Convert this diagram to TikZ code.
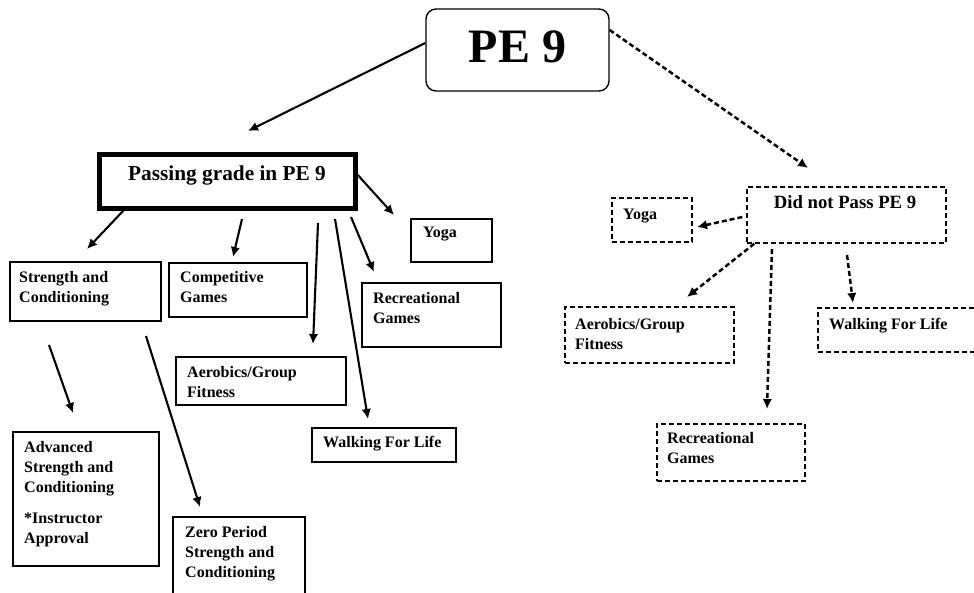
\documentclass[tikz,border=0pt]{standalone}
\usepackage{fontspec}
\setmainfont{Liberation Serif}
\usetikzlibrary{arrows.meta}

\begin{document}
\begin{tikzpicture}[x=1pt, y=-1pt]
	\tikzset{boite/.style={draw=black, line width=1.4pt, inner sep=0pt},
		pointille/.style={boite, dash pattern=on 5pt off 3pt},
		texte/.style={font=\bfseries\fontsize{16}{20}\selectfont, align=left, anchor=north west, inner sep=0pt},
		fleche/.style={>={Latex[length=10pt,width=9.5pt]}, ->, line width=2.1pt},
		tirets/.style={fleche, dash pattern=on 5pt off 3pt, line width=2.5pt}};

	\path[use as bounding box, clip] (0,0) rectangle (974,593);

	% boites
	\node[boite, rounded corners=10pt, minimum width=183pt, minimum height=82pt] (pe) at (517.5,50) {};
	\node[boite, line width=4.5pt, minimum width=256pt, minimum height=54pt] (reussi) at (227.5,181.5) {};
	\node[boite, minimum width=151pt, minimum height=59pt] (force) at (85.5,291.5) {};
	\node[boite, minimum width=138pt, minimum height=54pt] (compet) at (238,290) {};
	\node[boite, minimum width=81pt, minimum height=43pt] (yogaA) at (451.5,240.5) {};
	\node[boite, minimum width=139pt, minimum height=64pt] (recreA) at (431.5,315) {};
	\node[boite, minimum width=170pt, minimum height=48pt] (aeroA) at (261,381) {};
	\node[boite, minimum width=144pt, minimum height=34pt] (marcheA) at (384,445) {};
	\node[boite, minimum width=146pt, minimum height=134pt] (avance) at (86,499) {};
	\node[boite, minimum width=132pt, minimum height=86pt] (zero) at (239,560) {};

	\node[pointille, minimum width=199pt, minimum height=56pt] (echec) at (846.5,215) {};
	\node[pointille, minimum width=80pt, minimum height=44pt] (yogaB) at (652,220) {};
	\node[pointille, minimum width=169pt, minimum height=56pt] (aeroB) at (649.5,335) {};
	\node[pointille, minimum width=172pt, minimum height=44pt] (marcheB) at (904,330) {};
	\node[pointille, minimum width=148pt, minimum height=57pt] (recreB) at (731,452.5) {};

	% textes
	\node[texte, font=\bfseries\fontsize{48}{48}\selectfont, anchor=north] (pe-t) at (517.5,31) {PE 9};
	\node[texte, font=\bfseries\fontsize{21.3}{24}\selectfont, anchor=north] (reussi-t) at (227,166) {Passing grade in PE 9};
	\node[texte] (force-t) at (19,271) {Strength and\\Conditioning};
	\node[texte] (compet-t) at (180,271) {Competitive\\Games};
	\node[texte] (yogaA-t) at (423,227) {Yoga};
	\node[texte] (recreA-t) at (373,292) {Recreational\\Games};
	\node[texte] (aeroA-t) at (187,366) {Aerobics/Group\\Fitness};
	\node[texte] (marcheA-t) at (323,436) {Walking For Life};
	\node[texte] (avance-t) at (24,441) {Advanced\\Strength and\\Conditioning\\[11pt]*Instructor\\Approval};
	\node[texte] (zero-t) at (185,526) {Zero Period\\Strength and\\Conditioning};

	\node[texte, font=\bfseries\fontsize{18.7}{22}\selectfont, anchor=north] (echec-t) at (845,195) {Did not Pass PE 9};
	\node[texte] (yogaB-t) at (623,209) {Yoga};
	\node[texte] (aeroB-t) at (575,318) {Aerobics/Group\\Fitness};
	\node[texte] (marcheB-t) at (829,318) {Walking For Life};
	\node[texte] (recreB-t) at (667,432) {Recreational\\Games};

	% bouts de fleches
	\coordinate (a1) at (248,131);
	\coordinate (b1) at (87,249);
	\coordinate (c0) at (242,219);	\coordinate (c1) at (233,257);
	\coordinate (d0) at (318,223);	\coordinate (d1) at (313,344);
	\coordinate (e0) at (335,219);	\coordinate (e1) at (368,419);
	\coordinate (f0) at (351,217);	\coordinate (f1) at (374,272);
	\coordinate (g1) at (394,215);
	\coordinate (h0) at (49,345);	\coordinate (h1) at (73,413);
	\coordinate (i0) at (146,336);	\coordinate (i1) at (200,507);
	\coordinate (j1) at (808,168);
	\coordinate (k1) at (697,227);
	\coordinate (l1) at (687,297);
	\coordinate (m0) at (772,249);	\coordinate (m1) at (767,409);
	\coordinate (n0) at (847,255);	\coordinate (n1) at (853,303);

	\draw[fleche] ([yshift=7pt]pe.west) -- (a1);
	\draw[fleche] ([xshift=26pt]reussi.south west) -- (b1);
	\draw[fleche] (c0) -- (c1);
	\draw[fleche] (d0) -- (d1);
	\draw[fleche] (e0) -- (e1);
	\draw[fleche] (f0) -- (f1);
	\draw[fleche] ([yshift=6.5pt]reussi.east) -- (g1);
	\draw[fleche] (h0) -- (h1);
	\draw[fleche] (i0) -- (i1);

	\draw[tirets] ([yshift=20pt]pe.east) -- (j1);
	\draw[tirets] ([xshift=-4pt, yshift=-2pt]echec.west) -- (k1);
	\draw[tirets] ([xshift=8pt]echec.south west) -- (l1);
	\draw[tirets] (m0) -- (m1);
	\draw[tirets] (n0) -- (n1);

\end{tikzpicture}
\end{document}
